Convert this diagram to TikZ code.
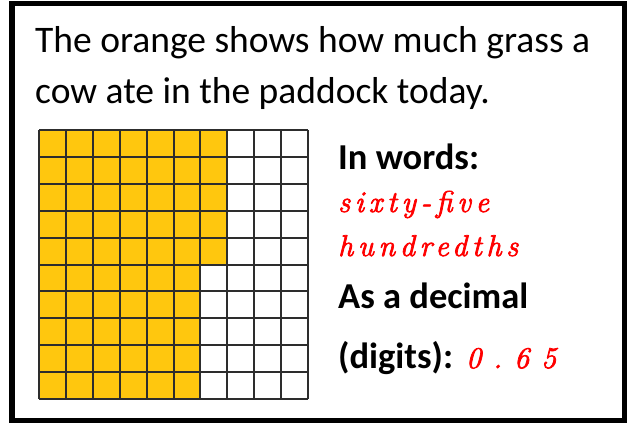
\documentclass[tikz,border=0pt]{standalone}
\usepackage{fontspec}
\setmainfont{Carlito}
\newfontfamily\hand[LetterSpace=16,ItalicFeatures={FakeBold=2.5}]{Latin Modern Roman}
\definecolor{cellorange}{RGB}{255,199,14}
\definecolor{gridline}{RGB}{45,45,45}
\begin{document}
\begin{tikzpicture}[x=1pt,y=-1pt,
  txt/.style={inner sep=0pt,anchor=base west},
  title/.style={txt,font=\fontsize{37.5}{40}\selectfont},
  label/.style={txt,font=\fontsize{36.5}{40}\selectfont\bfseries},
  answer/.style={txt,text=red,font=\fontsize{30}{34}\selectfont\hand\itshape}]
\useasboundingbox (0,0) rectangle (632,423);
\draw[line width=5.5pt] (12,3.5) rectangle (624.5,420.5);
\def\gx{39}\def\gy{130}\def\cs{26.9}
\fill[cellorange] (\gx,\gy) rectangle ({\gx+7*\cs},{\gy+5*\cs});
\fill[cellorange] (\gx,{\gy+5*\cs}) rectangle ({\gx+6*\cs},{\gy+10*\cs});
\foreach \i in {0,...,10}{
  \draw[gridline,line width=2pt] ({\gx+\i*\cs},\gy) -- ({\gx+\i*\cs},{\gy+10*\cs});
  \draw[gridline,line width=2pt] (\gx,{\gy+\i*\cs}) -- ({\gx+10*\cs},{\gy+\i*\cs});
}
\node[title] (t1) at (35,52) {The orange shows how much grass a};
\node[title] (t2) at (35,103) {cow ate in the paddock today.};
\node[label] (w) at (338,169) {In words:};
\node[answer] (a1) at (338,212) {sixty-five};
\node[answer] (a2) at (338,256) {hundredths};
\node[label] (d1) at (338,308) {As a decimal};
\node[label] (d2) at (338,368) {(digits):};
\node[answer] (a3) at (466,368) {0\kern12pt.\kern12pt6\kern12pt5};
\end{tikzpicture}
\end{document}
